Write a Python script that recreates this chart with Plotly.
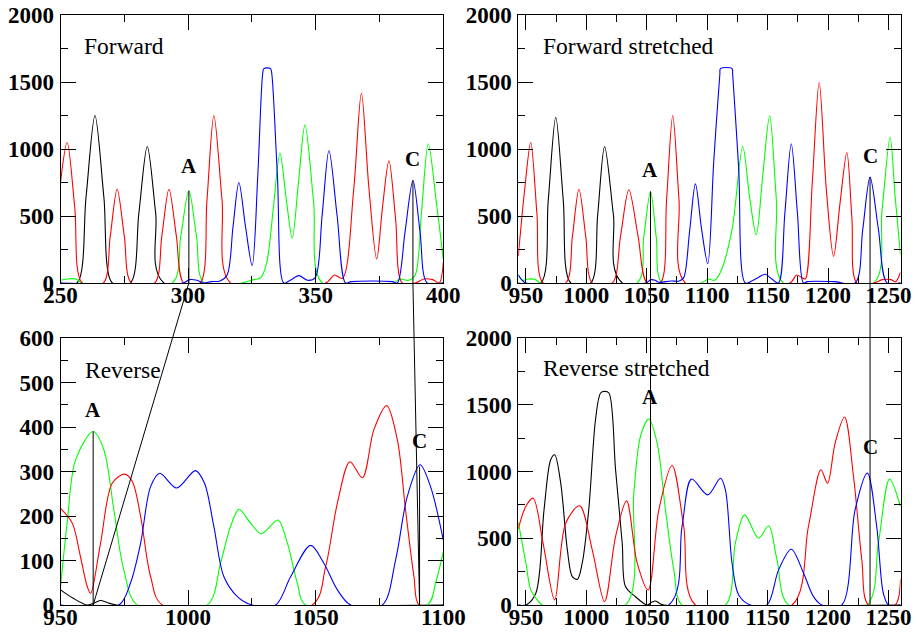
import plotly.graph_objects as go

# ---------------- data ----------------
# Forward (top-left), x 250..400
fwd_black_x = [250, 256.5, 260.0, 263.5, 267.0, 270.3, 277.4, 280.7, 284.0, 287.3, 290.5, 400]
fwd_black_y = [0, 0, 640, 1250, 640, 0, 0, 520, 1019, 520, 0, 0]
fwd_red_x = [250, 252.6, 255.6, 258.5, 266.8, 269.5, 272.2, 275.0, 277.8, 286.9, 289.7, 292.5, 295.4, 298.3,
             304.7, 307.4, 310.1, 313.3, 316.6, 354.0, 357.3, 360.5, 364.9, 367.9, 370.8, 373.9, 376.2, 378.7,
             381.3, 383.9, 389.0, 392.4, 395.8, 398.4, 400]
fwd_red_y = [750, 1048, 560, 0, 0, 350, 700, 350, 0, 0, 350, 700, 350, 0,
             0, 620, 1250, 620, 0, 0, 60, 35, 700, 1416, 720, 179, 570, 912,
             480, 0, 0, 30, 25, 0, 150]
fwd_green_x = [250, 252.5, 256.0, 258.5, 293.8, 297.1, 300.3, 303.3, 306.2, 321.0, 325.8, 328.5, 330.8,
               333.4, 336.0, 338.5, 340.8, 343.3, 345.8, 349.2, 352.6, 380.5, 383.0, 386.5, 389.0, 391.5,
               394.1, 397.3, 400]
fwd_green_y = [20, 30, 30, 0, 0, 345, 688, 345, 0, 0, 25, 40, 150,
               560, 969, 620, 335, 760, 1180, 600, 0, 0, 30, 20, 60, 540,
               1039, 600, 174]
fwd_blue_x = [250, 298.0, 300.5, 303.5, 306.0, 309.0, 312.5, 315.3, 317.6, 319.9, 322.5, 325.1, 327.3,
              329.2, 329.7, 332.3, 332.8, 335.0, 337.5, 340.0, 343.4, 346.8, 349.8, 352.5, 355.2, 358.4,
              361.7, 364.0, 380.0, 382.0, 385.0, 388.1, 390.9, 393.7, 400]
fwd_blue_y = [0, 0, 25, 20, 0, 10, 15, 60, 420, 750, 420, 130, 800,
              1560, 1600, 1600, 1560, 800, 0, 20, 55, 20, 40, 500, 989, 500,
              0, 10, 10, 0, 380, 765, 380, 0, 0]

# Forward stretched (top-right), x 944..1260
fs_black_x = [943.7, 962.3, 968.5, 974.7, 980.9, 987.1, 1003.6, 1009.4, 1015.1, 1022.4, 1029.7, 1260]
fs_black_y = [0, 0, 620, 1237, 620, 0, 0, 510, 1019, 510, 0, 0]
fs_red_x = [943.7, 949.0, 954.0, 959.1, 964.2, 983.0, 988.5, 993.9, 999.5, 1005.0, 1021.5, 1028.3, 1035.2,
            1042.8, 1050.3, 1061.3, 1066.4, 1071.5, 1076.7, 1082.0, 1168.5, 1174.0, 1178.5, 1181.2, 1187.0,
            1192.7, 1198.6, 1204.6, 1210.0, 1215.6, 1219.8, 1223.9, 1238.0, 1245.0, 1252.0, 1256.0, 1260]
fs_red_y = [200, 700, 1048, 520, 0, 0, 350, 700, 350, 0, 0, 350, 696,
            350, 0, 0, 620, 1250, 620, 0, 0, 60, 40, 30, 750,
            1496, 700, 199, 600, 974, 480, 0, 0, 25, 25, 10, 80]
fs_green_x = [943.7, 947.0, 952.0, 958.0, 962.0, 1042.0, 1047.5, 1053.1, 1057.9, 1062.7, 1095.0, 1101.0,
              1106.0, 1111.0, 1120.6, 1129.4, 1135.0, 1140.6, 1146.0, 1151.7, 1157.3, 1163.0, 1238.0,
              1244.7, 1251.4, 1255.5, 1260]
fs_green_y = [60, 20, 30, 25, 0, 0, 340, 683, 340, 0, 0, 30,
              20, 80, 400, 1019, 650, 360, 800, 1247, 620, 0, 0,
              540, 1088, 650, 211]
fs_blue_x = [943.7, 947.0, 950.0, 1049.0, 1053.5, 1057.0, 1060.0, 1070.0, 1077.0, 1080.6, 1085.5, 1090.3,
             1095.4, 1100.5, 1105.4, 1110.5, 1111.0, 1120.6, 1121.1, 1126.1, 1131.6, 1138.0, 1142.0, 1148.0,
             1153.5, 1159.0, 1164.3, 1169.6, 1174.7, 1179.7, 1183.0, 1205.0, 1222.5, 1228.7, 1234.8,
             1241.8, 1248.9, 1260]
fs_blue_y = [60, 20, 0, 0, 25, 20, 5, 15, 15, 40, 390, 740,
             400, 144, 900, 1560, 1600, 1600, 1560, 850, 0, 20, 40, 65,
             30, 0, 520, 1039, 520, 0, 10, 10, 0, 395, 790,
             395, 0, 0]

# Reverse (bottom-left), x 950..1100
rev_black_x = [950, 955, 960.5, 963.5, 965.7, 968.5, 972, 1100]
rev_black_y = [34, 15, 0, 5, 10, 5, 0, 0]
rev_red_x = [950, 954.6, 957.8, 960.5, 961.8, 965.7, 970.3, 975.1, 978.1, 981.4, 985.3, 989.9, 1048.7,
             1053.9, 1058.5, 1063.4, 1068.3, 1072.8, 1077.8, 1082.0, 1085.2, 1088.5, 1090.5, 1100]
rev_red_y = [217, 184, 109, 41, 26, 139, 274, 294, 278, 199, 64, 0, 0,
             86, 229, 322, 286, 394, 448, 371, 214, 64, 0, 0]
rev_green_x = [950, 952.6, 955.9, 962.8, 967.0, 970.9, 974.8, 980.1, 1007.5, 1012.7, 1016.6, 1019.9,
               1024.5, 1028.8, 1035.2, 1038.9, 1042.8, 1046.0, 1093.7, 1097.0, 1100]
rev_green_y = [41, 184, 326, 390, 349, 214, 79, 0, 0, 94, 176, 215,
               184, 160, 191, 139, 49, 0, 0, 50, 120]
rev_blue_x = [950, 972.9, 977.4, 981.4, 985.3, 988.9, 995.5, 1002.9, 1006.4, 1010.1, 1014.0, 1019.3,
              1025.1, 1034.3, 1040.2, 1048.0, 1053.2, 1058.5, 1063.7, 1076.1, 1081.3, 1085.9, 1090.9,
              1095.0, 1100]
rev_blue_y = [0, 0, 49, 139, 266, 296, 263, 302, 274, 176, 64, 19,
              0, 0, 64, 134, 94, 34, 0, 0, 101, 244, 315,
              266, 146]

# Reverse stretched (bottom-right), x 944..1260
rs_black_x = [943.7, 950.0, 958.2, 965.0, 970.5, 973.8, 978.8, 984.3, 988.4, 992.6, 996.6, 1002.0, 1007.6,
              1011.8, 1015.1, 1018.7, 1024.2, 1029.7, 1032.4, 1040.7, 1050.3, 1054.0, 1057.3, 1061.0,
              1064.0, 1260]
rs_black_y = [0, 0, 88, 713, 1088, 1125, 913, 413, 213, 193, 313, 713, 1388,
              1588, 1600, 1588, 1013, 463, 138, 62, 0, 20, 30, 10,
              0, 0]
rs_red_x = [943.7, 950.0, 956.0, 964.2, 973.8, 982.9, 994.5, 1004.9, 1015.1, 1024.2, 1033.3, 1042.1, 1051.2,
            1060.0, 1071.0, 1080.6, 1090.3, 1170.2, 1183.8, 1194.1, 1199.6, 1205.9, 1213.7, 1221.1, 1228.0,
            1233.5, 1255.5, 1260]
rs_red_y = [570, 740, 800, 463, 38, 613, 743, 413, 25, 513, 780, 313, 112,
            713, 1045, 588, 0, 0, 588, 1013, 912, 1213, 1408, 963, 338,
            0, 0, 193]
rs_green_x = [943.7, 950.0, 954.0, 959.5, 963.7, 1032.4, 1039.3, 1044.8, 1051.7, 1058.6, 1065.5, 1072.4,
              1079.2, 1115.1, 1123.3, 1131.0, 1142.6, 1150.9, 1157.8, 1167.4, 1232.1, 1241.7, 1250.9, 1260]
rs_green_y = [620, 313, 113, 38, 0, 0, 838, 1263, 1393, 1213, 713, 263,
              0, 0, 463, 675, 500, 593, 338, 0, 0, 463, 943, 738]
rs_blue_x = [943.7, 1068.3, 1079.2, 1087.0, 1100.5, 1111.0, 1115.1, 1120.6, 1126.1, 1135.7, 1149.5, 1159.1,
             1169.6, 1179.8, 1188.0, 1194.9, 1211.4, 1222.4, 1232.6, 1240.3, 1245.8, 1250.1, 1260]
rs_blue_y = [0, 0, 588, 943, 825, 950, 863, 313, 75, 0, 0, 263,
             418, 238, 63, 0, 0, 713, 988, 588, 88, 0, 0]

# marker peaks A and C: (x, peak height) per panel
fwd_A, fwd_A_h = 300.3, 688
fwd_C, fwd_C_h = 388.1, 765
fs_A, fs_A_h = 1053.1, 683
fs_C, fs_C_h = 1234.8, 790
rev_A, rev_A_h = 962.8, 390
rev_C, rev_C_h = 1090.7, 311

panel_titles = ["Forward", "Forward stretched", "Reverse", "Reverse stretched"]

# ---------------- layout constants ----------------
W, H = 918, 636
dom_left = [60.5 / W, 443.3 / W]
dom_right = [518.3 / W, 900.5 / W]
dom_top = [(H - 283) / H, (H - 15) / H]
dom_bot = [(H - 605) / H, (H - 338) / H]
rng_fwd = [250, 400]
rng_str = [943.7, 1260]
rng_rev = [950, 1100]

FONT = "Liberation Serif"
COL = {"black": "#000000", "red": "#ff0000", "green": "#00ff00", "blue": "#0000ff"}

fig = go.Figure()

def add(xs, ys, color, xa, ya):
    fig.add_trace(go.Scatter(x=xs, y=ys, mode="lines", xaxis=xa, yaxis=ya,
                             line=dict(color=COL[color], width=1.1, shape="spline", smoothing=0.9),
                             hoverinfo="skip", showlegend=False))

panels = [
    ("x", "y", [(fwd_black_x, fwd_black_y, "black"), (fwd_green_x, fwd_green_y, "green"),
                (fwd_red_x, fwd_red_y, "red"), (fwd_blue_x, fwd_blue_y, "blue")]),
    ("x2", "y2", [(fs_black_x, fs_black_y, "black"), (fs_green_x, fs_green_y, "green"),
                  (fs_red_x, fs_red_y, "red"), (fs_blue_x, fs_blue_y, "blue")]),
    ("x3", "y3", [(rev_black_x, rev_black_y, "black"), (rev_green_x, rev_green_y, "green"),
                  (rev_red_x, rev_red_y, "red"), (rev_blue_x, rev_blue_y, "blue")]),
    ("x4", "y4", [(rs_black_x, rs_black_y, "black"), (rs_green_x, rs_green_y, "green"),
                  (rs_red_x, rs_red_y, "red"), (rs_blue_x, rs_blue_y, "blue")]),
]
for xa, ya, series in panels:
    for xs, ys, c in series:
        add(xs, ys, c, xa, ya)

tickfont = dict(family=FONT, size=23, color="black", weight="bold")

def axis(dom, rng, dtick, minor, tick0, anchor, standoff):
    return dict(domain=dom, range=rng, anchor=anchor, showline=True, linecolor="black", linewidth=1,
                mirror="ticks", ticks="inside", ticklen=15, tickwidth=1, tickcolor="black",
                tick0=tick0, dtick=dtick, automargin=False, ticklabelstandoff=standoff,
                minor=dict(dtick=minor, ticklen=7, ticks="inside", tickwidth=1, tickcolor="black"),
                showgrid=False, zeroline=False, tickfont=tickfont, fixedrange=True)

fig.update_layout(
    width=W, height=H, margin=dict(l=0, r=0, t=0, b=0, autoexpand=False),
    font=dict(family=FONT, color="black"),
    paper_bgcolor="white", plot_bgcolor="white",
    xaxis=axis(dom_left, rng_fwd, 50, 25, 250, "y", -9),
    yaxis=axis(dom_top, [0, 2000], 500, 250, 0, "x", 1),
    xaxis2=axis(dom_right, rng_str, 50, 25, 950, "y2", -9),
    yaxis2=axis(dom_top, [0, 2000], 500, 250, 0, "x2", 1),
    xaxis3=axis(dom_left, rng_rev, 50, 25, 950, "y3", -9),
    yaxis3=axis(dom_bot, [0, 600], 100, 50, 0, "x3", 1),
    xaxis4=axis(dom_right, rng_str, 50, 25, 950, "y4", -9),
    yaxis4=axis(dom_bot, [0, 2000], 500, 250, 0, "x4", 1),
)

def to_paper(v, rng, dom):
    return dom[0] + (v - rng[0]) / (rng[1] - rng[0]) * (dom[1] - dom[0])

line = dict(color="black", width=1)
shapes = [
    # vertical marker lines inside panels
    dict(type="line", xref="x", yref="y", x0=fwd_A, x1=fwd_A, y0=0, y1=fwd_A_h, line=line),
    dict(type="line", xref="x", yref="y", x0=fwd_C, x1=fwd_C, y0=0, y1=fwd_C_h, line=line),
    dict(type="line", xref="x3", yref="y3", x0=rev_A, x1=rev_A, y0=0, y1=rev_A_h, line=line),
    dict(type="line", xref="x3", yref="y3", x0=rev_C, x1=rev_C, y0=0, y1=rev_C_h, line=line),
    dict(type="line", xref="x2", yref="y2", x0=fs_A, x1=fs_A, y0=0, y1=fs_A_h, line=line),
    dict(type="line", xref="x2", yref="y2", x0=fs_C, x1=fs_C, y0=0, y1=fs_C_h, line=line),
    # connectors forward -> reverse
    dict(type="line", xref="paper", yref="paper",
         x0=to_paper(fwd_A, rng_fwd, dom_left), y0=dom_top[0],
         x1=to_paper(rev_A, rng_rev, dom_left), y1=dom_bot[0], line=line),
    dict(type="line", xref="paper", yref="paper",
         x0=to_paper(fwd_C, rng_fwd, dom_left), y0=dom_top[0],
         x1=to_paper(rev_C, rng_rev, dom_left), y1=dom_bot[0], line=line),
    # stretched: straight down through reverse stretched
    dict(type="line", xref="paper", yref="paper",
         x0=to_paper(fs_A, rng_str, dom_right), x1=to_paper(fs_A, rng_str, dom_right),
         y0=dom_bot[0], y1=dom_top[0], line=line),
    dict(type="line", xref="paper", yref="paper",
         x0=to_paper(fs_C, rng_str, dom_right), x1=to_paper(fs_C, rng_str, dom_right),
         y0=dom_bot[0], y1=dom_top[0], line=line),
]
fig.update_layout(shapes=shapes)

ann = []
title_refs = [("x domain", "y domain"), ("x2 domain", "y2 domain"), ("x3 domain", "y3 domain"), ("x4 domain", "y4 domain")]
title_pos = [(0.056, 0.885), (0.059, 0.885), (0.059, 0.882), (0.059, 0.888)]
for t, (xr, yr), (tx, ty) in zip(panel_titles, title_refs, title_pos):
    ann.append(dict(text=t, xref=xr, yref=yr, x=tx, y=ty, xanchor="left", yanchor="middle",
                    showarrow=False, font=dict(family=FONT, size=23.5, color="black")))

lab_font = dict(family=FONT, size=21, color="black", weight="bold")
labels = [("A", "x", "y", fwd_A, 875), ("C", "x", "y", fwd_C, 925),
          ("A", "x2", "y2", fs_A, 843), ("C", "x2", "y2", fs_C, 948),
          ("A", "x3", "y3", rev_A, 438), ("C", "x3", "y3", rev_C, 368),
          ("A", "x4", "y4", fs_A, 1558), ("C", "x4", "y4", fs_C, 1183)]
for txt, xr, yr, lx, ly in labels:
    ann.append(dict(text=txt, xref=xr, yref=yr, x=lx, y=ly, xanchor="center", yanchor="middle",
                    showarrow=False, font=lab_font))
fig.update_layout(annotations=ann)

fig.write_html("out.html", config={"displayModeBar": False},
               post_script="document.body.style.margin='0';")
